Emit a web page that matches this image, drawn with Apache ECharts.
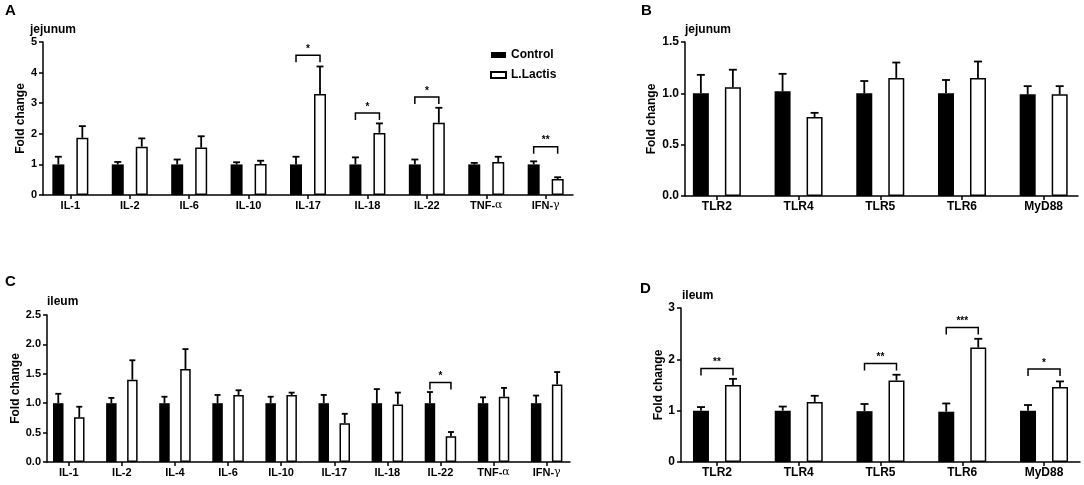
<!DOCTYPE html>
<html>
<head>
<meta charset="utf-8">
<script src="https://cdn.jsdelivr.net/npm/echarts@6/dist/echarts.min.js"></script>
<style>
  html, body { margin: 0; padding: 0; background: #fff; }
  #chart { width: 1084px; height: 485px; }
</style>
</head>
<body>
<div id="chart"></div>
<script>
// panel A - jejunum cytokines
const catsA = ['IL-1', 'IL-2', 'IL-6', 'IL-10', 'IL-17', 'IL-18', 'IL-22', 'TNF-α', 'IFN-γ']
const ctrlA = [1.0, 1.0, 1.0, 1.0, 1.0, 1.0, 1.0, 1.0, 1.0]
const ctrlErrA = [1.25, 1.08, 1.16, 1.07, 1.25, 1.23, 1.16, 1.05, 1.10]
const lactA = [1.87, 1.58, 1.55, 1.01, 3.30, 2.03, 2.36, 1.08, 0.52]
const lactErrA = [2.25, 1.85, 1.92, 1.12, 4.20, 2.34, 2.85, 1.25, 0.58]
const sigCatA = [4, 5, 6, 8]
const sigYA = [4.57, 2.68, 3.2, 1.58]
const sigTextA = ['*', '*', '*', '**']

// panel B - jejunum TLRs
const catsB = ['TLR2', 'TLR4', 'TLR5', 'TLR6', 'MyD88']
const ctrlB = [1.0, 1.02, 1.0, 1.0, 0.99]
const ctrlErrB = [1.18, 1.19, 1.12, 1.13, 1.07]
const lactB = [1.06, 0.77, 1.15, 1.15, 0.99]
const lactErrB = [1.23, 0.81, 1.30, 1.31, 1.07]

// panel C - ileum cytokines
const catsC = ['IL-1', 'IL-2', 'IL-4', 'IL-6', 'IL-10', 'IL-17', 'IL-18', 'IL-22', 'TNF-α', 'IFN-γ']
const ctrlC = [1.0, 1.0, 1.0, 1.0, 1.0, 1.0, 1.0, 1.0, 1.0, 1.0]
const ctrlErrC = [1.16, 1.09, 1.11, 1.14, 1.11, 1.14, 1.24, 1.19, 1.10, 1.13]
const lactC = [0.76, 1.40, 1.58, 1.14, 1.14, 0.66, 0.98, 0.44, 1.11, 1.32]
const lactErrC = [0.94, 1.73, 1.92, 1.22, 1.18, 0.82, 1.18, 0.51, 1.26, 1.53]
const sigCatC = [7]
const sigYC = [1.35]
const sigTextC = ['*']

// panel D - ileum TLRs
const catsD = ['TLR2', 'TLR4', 'TLR5', 'TLR6', 'MyD88']
const ctrlD = [1.0, 1.0, 0.99, 0.98, 1.0]
const ctrlErrD = [1.07, 1.08, 1.13, 1.14, 1.11]
const lactD = [1.50, 1.17, 1.59, 2.23, 1.46]
const lactErrD = [1.62, 1.29, 1.70, 2.40, 1.57]
const sigCatD = [0, 2, 3, 4]
const sigYD = [1.82, 1.92, 2.62, 1.81]
const sigTextD = ['**', '**', '***', '*']

const FONT = 'Liberation Sans, Arial, sans-serif'

function greek(s) {
  return s.replace(/([αγ])/g, '{g|$1}')
}

let grids = [], xAxes = [], yAxes = [], series = []

function panel(i, p) {
  grids.push(p.grid)
  xAxes.push({
    gridIndex: i,
    type: 'value',
    min: p.xmin,
    max: p.xmax,
    splitLine: { show: false },
    axisLine: { show: true, onZero: false, lineStyle: { color: '#000', width: 1.5 } },
    axisTick: {
      show: true, length: 4, lineStyle: { color: '#000', width: 1.5 },
      customValues: p.cats.map((c, k) => k)
    },
    axisLabel: {
      customValues: p.cats.map((c, k) => k),
      formatter: v => greek(p.cats[Math.round(v)] || ''),
      color: '#000', fontWeight: 'bold', fontSize: p.fs, fontFamily: FONT, margin: 5,
      rich: { g: { fontFamily: 'DejaVu Serif', fontWeight: 'normal', fontSize: p.fs, color: '#000' } }
    }
  })
  yAxes.push({
    gridIndex: i,
    type: 'value',
    min: 0,
    max: p.ymax,
    interval: p.yint,
    name: 'Fold change',
    nameLocation: 'middle',
    nameGap: p.nameGap,
    nameTextStyle: { color: '#000', fontWeight: 'bold', fontSize: 12, fontFamily: FONT },
    splitLine: { show: false },
    axisLine: { show: true, onZero: false, lineStyle: { color: '#000', width: 1.5 } },
    axisTick: { show: true, length: 4, lineStyle: { color: '#000', width: 1.5 } },
    axisLabel: {
      color: '#000', fontWeight: 'bold', fontSize: p.fs, fontFamily: FONT, margin: 6,
      formatter: v => p.yint < 1 ? v.toFixed(1) : String(v)
    }
  })

  const bw = p.barWidth
  series.push({
    name: 'Control', type: 'bar', xAxisIndex: i, yAxisIndex: i,
    barWidth: bw, barGap: '100%',
    data: p.ctrl.map((v, k) => [k, v]),
    itemStyle: { color: '#000' }
  })
  series.push({
    name: 'L.Lactis', type: 'bar', xAxisIndex: i, yAxisIndex: i,
    barWidth: bw, barGap: '100%',
    data: p.lact.map((v, k) => [k, v]),
    itemStyle: { color: '#fff', borderColor: '#000', borderWidth: 1.5 }
  })

  let errData = []
  p.ctrl.forEach((v, k) => errData.push([k, v, p.ctrlErr[k], -1]))
  p.lact.forEach((v, k) => errData.push([k, v, p.lactErr[k], 1]))
  series.push({
    type: 'custom', xAxisIndex: i, yAxisIndex: i, z: 3, silent: true,
    data: errData,
    renderItem: function (params, api) {
      const lo = api.coord([api.value(0), api.value(1)])
      const hi = api.coord([api.value(0), api.value(2)])
      const cx = lo[0] + api.value(3) * bw
      const st = { stroke: '#000', lineWidth: 1.8 }
      return {
        type: 'group',
        children: [
          { type: 'line', shape: { x1: cx, y1: lo[1], x2: cx, y2: hi[1] }, style: st },
          { type: 'line', shape: { x1: cx - p.cap / 2, y1: hi[1], x2: cx + p.cap / 2, y2: hi[1] }, style: st }
        ]
      }
    }
  })

  if (p.sigCat) {
    series.push({
      type: 'custom', xAxisIndex: i, yAxisIndex: i, z: 3, silent: true, clip: false,
      data: p.sigCat.map((c, k) => [c, p.sigY[k]]),
      renderItem: function (params, api) {
        const pt = api.coord([api.value(0), api.value(1)])
        const x1 = pt[0] - bw, x2 = pt[0] + bw, y = pt[1]
        return {
          type: 'group',
          children: [
            {
              type: 'polyline',
              shape: { points: [[x1, y + 7], [x1, y], [x2, y], [x2, y + 7]] },
              style: { stroke: '#000', lineWidth: 1.5, fill: null }
            },
            {
              type: 'text',
              style: {
                text: p.sigText[params.dataIndex], x: pt[0], y: y - 1,
                align: 'center', verticalAlign: 'bottom',
                fontSize: 10, fontWeight: 'bold', fontFamily: FONT, fill: '#000'
              }
            }
          ]
        }
      }
    })
  }
}

panel(0, {
  grid: { left: 29, right: 511, top: 42, bottom: 290 },
  xmin: -0.46, xmax: 8.46, ymax: 5, yint: 1, nameGap: 13, fs: 11,
  cats: catsA, ctrl: ctrlA, ctrlErr: ctrlErrA, lact: lactA, lactErr: lactErrA,
  sigCat: sigCatA, sigY: sigYA, sigText: sigTextA,
  barWidth: 12, cap: 7
})
panel(1, {
  grid: { left: 685, right: 6, top: 42, bottom: 289 },
  xmin: -0.39, xmax: 4.42, ymax: 1.5, yint: 0.5, nameGap: 27, fs: 12,
  cats: catsB, ctrl: ctrlB, ctrlErr: ctrlErrB, lact: lactB, lactErr: lactErrB,
  barWidth: 16, cap: 8
})
panel(2, {
  grid: { left: 47, right: 514, top: 315, bottom: 23 },
  xmin: -0.41, xmax: 9.44, ymax: 2.5, yint: 0.5, nameGap: 24, fs: 11,
  cats: catsC, ctrl: ctrlC, ctrlErr: ctrlErrC, lact: lactC, lactErr: lactErrC,
  sigCat: sigCatC, sigY: sigYC, sigText: sigTextC,
  barWidth: 10.5, cap: 6
})
panel(3, {
  grid: { left: 681, right: 4, top: 308, bottom: 23 },
  xmin: -0.44, xmax: 4.44, ymax: 3, yint: 1, nameGap: 13, fs: 12,
  cats: catsD, ctrl: ctrlD, ctrlErr: ctrlErrD, lact: lactD, lactErr: lactErrD,
  sigCat: sigCatD, sigY: sigYD, sigText: sigTextD,
  barWidth: 16, cap: 8
})

function label(text, left, top, size) {
  return {
    text: text, left: left, top: top, padding: 0,
    textStyle: { color: '#000', fontWeight: 'bold', fontSize: size, fontFamily: FONT }
  }
}

const chart = echarts.init(document.getElementById('chart'))
chart.setOption({
  animation: false,
  backgroundColor: '#fff',
  title: [
    label('A', 5, 3, 15),
    label('jejunum', 30, 24, 12),
    label('B', 641, 3, 15),
    label('jejunum', 685, 24, 12),
    label('C', 5, 274, 15),
    label('ileum', 47, 296, 12),
    label('D', 640, 281, 15),
    label('ileum', 682, 290, 12)
  ],
  legend: {
    data: ['Control', 'L.Lactis'],
    orient: 'vertical',
    left: 490, top: 49, padding: 0,
    icon: 'rect',
    itemWidth: 15, itemHeight: 6, itemGap: 8,
    selectedMode: false,
    textStyle: { color: '#000', fontWeight: 'bold', fontSize: 12, fontFamily: FONT }
  },
  grid: grids,
  xAxis: xAxes,
  yAxis: yAxes,
  series: series
})
</script>
</body>
</html>
